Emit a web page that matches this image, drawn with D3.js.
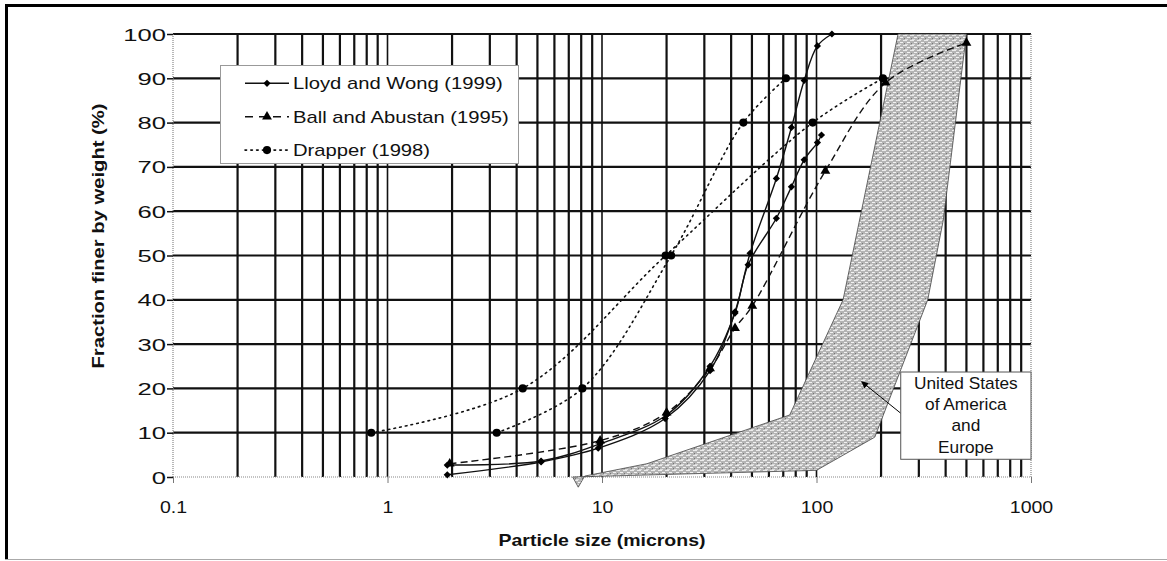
<!DOCTYPE html>
<html>
<head>
<meta charset="utf-8">
<script src="https://cdn.jsdelivr.net/npm/d3@7"></script>
<style>
  body { margin: 0; background: #fff; }
  text { font-family: "Liberation Sans", Arial, sans-serif; fill: #111; }
</style>
</head>
<body>
<svg id="chart" width="1167" height="561"></svg>
<script>
// tick labels
const xTickValues = [0.1, 1, 10, 100, 1000];
const yTickValues = [0, 10, 20, 30, 40, 50, 60, 70, 80, 90, 100];

// series: [particle size (microns), fraction finer (%)]
const lloydA = [[1.9, 0.5], [5.2, 3.4], [9.6, 6.5], [19.7, 13.2], [31.9, 24], [41.7, 37.3], [49, 50.5], [65, 67.4], [76.4, 78.9], [87.6, 89.5], [101, 97.3], [118, 100]];
const lloydB = [[1.9, 2.7], [5.2, 3.6], [9.8, 7.5], [20, 14], [31.9, 25], [41.7, 37], [48, 47.9], [65, 58.4], [76.4, 65.5], [87.6, 71.6], [101, 75.5], [105.5, 77.2]];
const ball = [[1.95, 3], [9.8, 8.2], [20, 14.5], [31.9, 24.5], [41.7, 33.6], [50.2, 38.6], [110, 69.1], [210, 89], [500, 98]];
const drapperA = [[0.84, 10], [4.27, 20], [19.8, 50], [96, 80], [204, 90]];
const drapperB = [[3.23, 10], [8.1, 20], [21, 50], [45.6, 80], [72, 90]];

// shaded band (USA and Europe), outline in data units
const bandFine = [[7.3, 0], [7.75, -2.3], [8.3, 0.2], [16.2, 3], [75, 14], [133, 40], [240, 100]];
const bandCoarse = [[500, 100], [390, 58], [330, 40], [187, 9], [100, 1.5]];

const legendNames = ['Lloyd and Wong (1999)', 'Ball and Abustan (1995)', 'Drapper (1998)'];
const bandLabel = ['United States', 'of America', 'and', 'Europe'];

const svg = d3.select('#chart');

const x = d3.scaleLog().domain([0.1, 1000]).range([173, 1031]);
const y = d3.scaleLinear().domain([0, 100]).range([477, 34]);

// frame
svg.append('line').attr('x1', 5).attr('x2', 1167).attr('y1', 5.5).attr('y2', 5.5)
    .attr('stroke', '#000').attr('stroke-width', 3);
svg.append('line').attr('x1', 6.5).attr('x2', 6.5).attr('y1', 4).attr('y2', 560)
    .attr('stroke', '#000').attr('stroke-width', 3);
svg.append('line').attr('x1', 5).attr('x2', 1167).attr('y1', 559.5).attr('y2', 559.5)
    .attr('stroke', '#aaa').attr('stroke-width', 1);

const defs = svg.append('defs');
const pat = defs.append('pattern')
    .attr('id', 'stipple')
    .attr('patternUnits', 'userSpaceOnUse')
    .attr('width', 7)
    .attr('height', 5);
pat.append('rect').attr('width', 7).attr('height', 5).attr('fill', '#b4b4b4');
pat.append('rect').attr('x', 0).attr('y', 0).attr('width', 4).attr('height', 1).attr('fill', '#ececec');
pat.append('rect').attr('x', 4).attr('y', 2).attr('width', 3).attr('height', 1).attr('fill', '#f2f2f2');
pat.append('rect').attr('x', 1).attr('y', 3).attr('width', 1).attr('height', 1).attr('fill', '#777');
pat.append('rect').attr('x', 2).attr('y', 4).attr('width', 3).attr('height', 1).attr('fill', '#dedede');

defs.append('marker')
    .attr('id', 'arrow')
    .attr('viewBox', '0 0 10 10')
    .attr('refX', 9).attr('refY', 5)
    .attr('markerWidth', 9).attr('markerHeight', 7)
    .attr('markerUnits', 'userSpaceOnUse')
    .attr('orient', 'auto')
    .append('path').attr('d', 'M0,0L10,5L0,10Z').attr('fill', '#000');

// grid
const grid = svg.append('g');
grid.selectAll('line.h')
    .data(yTickValues.filter(v => v > 0))
    .enter().append('line')
    .attr('x1', x(0.1)).attr('x2', x(1000))
    .attr('y1', d => y(d)).attr('y2', d => y(d))
    .attr('stroke', '#111').attr('stroke-width', 2.2);
grid.selectAll('line.v')
    .data(x.ticks().filter(v => v > 0.1 && v < 1000))
    .enter().append('line')
    .attr('x1', d => x(d)).attr('x2', d => x(d))
    .attr('y1', y(0)).attr('y2', y(100))
    .attr('stroke', '#111').attr('stroke-width', d => xTickValues.includes(d) ? 1.6 : 2.2);

// axis edges (dotted grey)
[[x(0.1), y(0), x(0.1), y(100)], [x(1000), y(0), x(1000), y(100)], [x(0.1), y(0), x(1000), y(0)]].forEach(s => {
    svg.append('line')
        .attr('x1', s[0]).attr('y1', s[1]).attr('x2', s[2]).attr('y2', s[3])
        .attr('stroke', '#888').attr('stroke-width', 1.2).attr('stroke-dasharray', '1,1');
});

// shaded band
svg.append('path')
    .datum(bandFine.concat(bandCoarse))
    .attr('d', d3.line().x(d => x(d[0])).y(d => y(d[1])).curve(d3.curveLinearClosed))
    .attr('fill', 'url(#stipple)')
    .attr('stroke', '#444').attr('stroke-width', 0.8);

// axes
const xAxis = svg.append('g')
    .attr('transform', `translate(0,${y(0)})`)
    .call(d3.axisBottom(x).tickValues(xTickValues).tickSize(6).tickSizeOuter(0).tickFormat(d3.format('~g')));
xAxis.select('.domain').remove();
xAxis.selectAll('line').attr('stroke', '#777');
xAxis.selectAll('text')
    .attr('y', 0).attr('dy', 0)
    .attr('font-size', 17)
    .attr('fill', '#111')
    .attr('transform', 'translate(0,36) scale(1.15,1)');

const yAxis = svg.append('g')
    .attr('transform', `translate(${x(0.1)},0)`)
    .call(d3.axisLeft(y).tickValues(yTickValues).tickSize(6).tickSizeOuter(0));
yAxis.select('.domain').remove();
yAxis.selectAll('line').attr('stroke', '#111').attr('stroke-width', 1.5);
yAxis.selectAll('text')
    .attr('x', 0).attr('dy', 0)
    .attr('font-size', 16)
    .attr('fill', '#111')
    .attr('transform', 'translate(-7,6) scale(1.6,1)');

// axis titles
svg.append('g')
    .attr('transform', `translate(${x(10)},546) scale(1.22,1)`)
    .append('text')
    .attr('text-anchor', 'middle')
    .attr('font-size', 16)
    .attr('font-weight', 'bold')
    .text('Particle size (microns)');

svg.append('g')
    .attr('transform', 'translate(104,236) rotate(-90) scale(1.19,1)')
    .append('text')
    .attr('text-anchor', 'middle')
    .attr('font-size', 17)
    .attr('font-weight', 'bold')
    .text('Fraction finer by weight (%)');

// series
const styles = [
    { dash: null, width: 1.4, symbol: d3.symbolSquare, size: 26, rotate: 45 },
    { dash: '7,4', width: 1.4, symbol: d3.symbolTriangle, size: 42, rotate: 0 },
    { dash: '1.6,4.2', width: 1.6, symbol: d3.symbolCircle, size: 52, rotate: 0 }
];
const series = [
    { data: lloydA, style: styles[0] },
    { data: lloydB, style: styles[0] },
    { data: ball, style: styles[1] },
    { data: drapperA, style: styles[2] },
    { data: drapperB, style: styles[2] }
];

const line = d3.line()
    .x(d => x(d[0]))
    .y(d => y(d[1]))
    .curve(d3.curveCatmullRom.alpha(0.5));

series.forEach(s => {
    svg.append('path')
        .datum(s.data)
        .attr('d', line)
        .attr('fill', 'none')
        .attr('stroke', '#111')
        .attr('stroke-width', s.style.width)
        .attr('stroke-linecap', s.style.dash && s.style.symbol === d3.symbolCircle ? 'round' : 'butt')
        .attr('stroke-dasharray', s.style.dash);
});
series.forEach(s => {
    svg.append('g').selectAll('path')
        .data(s.data)
        .enter().append('path')
        .attr('d', d3.symbol().type(s.style.symbol).size(s.style.size))
        .attr('transform', d => `translate(${x(d[0])},${y(d[1])}) rotate(${s.style.rotate})`)
        .attr('fill', '#000');
});

// legend
const legend = svg.append('g');
legend.append('rect')
    .attr('x', 220.5).attr('y', 65.5)
    .attr('width', 298).attr('height', 98)
    .attr('fill', '#fff')
    .attr('stroke', '#999');
legendNames.forEach((name, i) => {
    const cy = 83.3 + i * 33.4;
    const st = styles[i];
    legend.append('line')
        .attr('x1', 245).attr('x2', 289)
        .attr('y1', cy).attr('y2', cy)
        .attr('stroke', '#111')
        .attr('stroke-width', st.width)
        .attr('stroke-linecap', i === 2 ? 'round' : 'butt')
        .attr('stroke-dasharray', i === 1 ? '8,6' : st.dash);
    legend.append('path')
        .attr('d', d3.symbol().type(st.symbol).size(st.size))
        .attr('transform', `translate(267,${cy}) rotate(${st.rotate})`)
        .attr('fill', '#000');
    legend.append('g')
        .attr('transform', `translate(293,${cy + 6}) scale(1.19,1)`)
        .append('text')
        .attr('font-size', 17)
        .text(name);
});

// band annotation
const boxX0 = x(247), boxX1 = x(1000), boxY0 = y(23.7), boxY1 = y(4);
svg.append('line')
    .attr('x1', boxX0).attr('y1', y(14.4))
    .attr('x2', x(162.5)).attr('y2', y(21.5))
    .attr('stroke', '#000').attr('stroke-width', 1)
    .attr('marker-end', 'url(#arrow)');
svg.append('rect')
    .attr('x', boxX0).attr('y', boxY0)
    .attr('width', boxX1 - boxX0).attr('height', boxY1 - boxY0)
    .attr('fill', '#fff')
    .attr('stroke', '#555');
bandLabel.forEach((t, i) => {
    svg.append('g')
        .attr('transform', `translate(${(boxX0 + boxX1) / 2},${389 + i * 21.2}) scale(1.08,1)`)
        .append('text')
        .attr('text-anchor', 'middle')
        .attr('font-size', 16)
        .text(t);
});
</script>
</body>
</html>
